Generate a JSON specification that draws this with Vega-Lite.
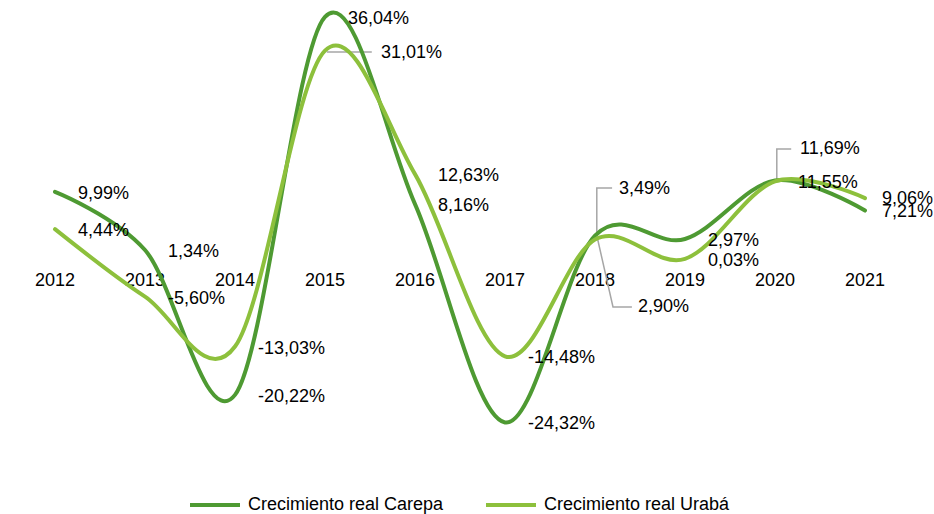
{
  "$schema": "https://vega.github.io/schema/vega-lite/v6.json",
  "width": 934,
  "height": 514,
  "autosize": {"type": "none"},
  "padding": 0,
  "background": "white",
  "config": {
    "view": {"stroke": null},
    "font": "Liberation Sans",
    "text": {"font": "Liberation Sans", "fontSize": 18, "fill": "#000000"}
  },
  "datasets": {
    "growth": [
      {"series": "Crecimiento real Carepa", "year": 2012, "value": 9.99},
      {"series": "Crecimiento real Carepa", "year": 2013, "value": 1.34},
      {"series": "Crecimiento real Carepa", "year": 2014, "value": -20.22},
      {"series": "Crecimiento real Carepa", "year": 2015, "value": 36.04},
      {"series": "Crecimiento real Carepa", "year": 2016, "value": 8.16},
      {"series": "Crecimiento real Carepa", "year": 2017, "value": -24.32},
      {"series": "Crecimiento real Carepa", "year": 2018, "value": 3.49},
      {"series": "Crecimiento real Carepa", "year": 2019, "value": 2.97},
      {"series": "Crecimiento real Carepa", "year": 2020, "value": 11.69},
      {"series": "Crecimiento real Carepa", "year": 2021, "value": 7.21},
      {"series": "Crecimiento real Urabá", "year": 2012, "value": 4.44},
      {"series": "Crecimiento real Urabá", "year": 2013, "value": -5.60},
      {"series": "Crecimiento real Urabá", "year": 2014, "value": -13.03},
      {"series": "Crecimiento real Urabá", "year": 2015, "value": 31.01},
      {"series": "Crecimiento real Urabá", "year": 2016, "value": 12.63},
      {"series": "Crecimiento real Urabá", "year": 2017, "value": -14.48},
      {"series": "Crecimiento real Urabá", "year": 2018, "value": 2.90},
      {"series": "Crecimiento real Urabá", "year": 2019, "value": 0.03},
      {"series": "Crecimiento real Urabá", "year": 2020, "value": 11.55},
      {"series": "Crecimiento real Urabá", "year": 2021, "value": 9.06}
    ],
    "leaders": [
      {"id": "a", "step": 1, "year": 2015.02, "value": 30.8},
      {"id": "a", "step": 2, "year": 2015.52, "value": 30.8},
      {"id": "b", "step": 1, "year": 2018.02, "value": 3.6},
      {"id": "b", "step": 2, "year": 2018.02, "value": 10.57},
      {"id": "b", "step": 3, "year": 2018.19, "value": 10.57},
      {"id": "c", "step": 1, "year": 2018.03, "value": 2.9},
      {"id": "c", "step": 2, "year": 2018.2, "value": -7.14},
      {"id": "c", "step": 3, "year": 2018.41, "value": -7.14},
      {"id": "d", "step": 1, "year": 2020.02, "value": 11.69},
      {"id": "d", "step": 2, "year": 2020.02, "value": 16.37},
      {"id": "d", "step": 3, "year": 2020.18, "value": 16.37}
    ]
  },
  "data": {"name": "growth"},
  "transform": [
    {"calculate": "(datum.value < 0 ? '-' : '') + replace(format(abs(datum.value), '.2f'), '.', ',') + '%'", "as": "label"}
  ],
  "encoding": {
    "x": {"field": "year", "type": "quantitative", "scale": {"domain": [2011.3889, 2021.7667], "nice": false, "zero": false}, "axis": null},
    "y": {"field": "value", "type": "quantitative", "scale": {"domain": [-37.95, 38.54], "nice": false, "zero": false}, "axis": null}
  },
  "layer": [
    {
      "data": {"values": [{}]},
      "mark": {"type": "rule", "color": "#bfbfbf", "strokeWidth": 2},
      "encoding": {"x": {"datum": 2011.5}, "x2": {"datum": 2021.5}, "y": {"datum": 0}}
    },
    {
      "transform": [{"filter": "datum.series === 'Crecimiento real Carepa'"}],
      "mark": {"type": "text", "align": "center", "baseline": "middle", "dy": 22},
      "encoding": {"y": {"datum": 0}, "text": {"field": "year", "type": "quantitative", "format": "d"}}
    },
    {
      "data": {"name": "leaders"},
      "mark": {"type": "line", "color": "#a6a6a6", "strokeWidth": 1.5},
      "encoding": {"detail": {"field": "id"}, "order": {"field": "step", "type": "quantitative"}}
    },
    {
      "mark": {"type": "line", "interpolate": "cardinal", "strokeWidth": 4, "strokeCap": "round"},
      "encoding": {
        "color": {
          "field": "series", "type": "nominal",
          "scale": {"domain": ["Crecimiento real Carepa", "Crecimiento real Urabá"], "range": ["#4E9A32", "#8DC03C"]},
          "legend": {
            "title": null, "orient": "none", "legendX": 188, "legendY": 478,
            "direction": "horizontal", "symbolType": "stroke", "symbolSize": 2500,
            "symbolStrokeWidth": 4, "labelFontSize": 18, "labelFont": "Liberation Sans",
            "labelColor": "#000000", "labelLimit": 400, "labelOffset": 6, "columnPadding": 34
          }
        }
      }
    },
    {
      "transform": [{"filter": "!((datum.year === 2015 && datum.series === 'Crecimiento real Urabá') || datum.year === 2018 || (datum.year === 2020 && datum.series === 'Crecimiento real Carepa') || datum.year === 2021)"}],
      "mark": {"type": "text", "align": "left", "baseline": "middle", "dx": 23, "dy": 2},
      "encoding": {"text": {"field": "label"}}
    },
    {
      "transform": [{"filter": "datum.year === 2021"}],
      "mark": {"type": "text", "align": "left", "baseline": "middle", "dx": 17, "dy": 1},
      "encoding": {"text": {"field": "label"}}
    },
    {
      "transform": [{"filter": "datum.year === 2015 && datum.series === 'Crecimiento real Urabá'"}],
      "mark": {"type": "text", "align": "left", "baseline": "middle", "dx": 56, "dy": 2},
      "encoding": {"text": {"field": "label"}}
    },
    {
      "transform": [{"filter": "datum.year === 2018 && datum.series === 'Crecimiento real Carepa'"}],
      "mark": {"type": "text", "align": "left", "baseline": "middle", "dx": 24, "dy": -47},
      "encoding": {"text": {"field": "label"}}
    },
    {
      "transform": [{"filter": "datum.year === 2018 && datum.series === 'Crecimiento real Urabá'"}],
      "mark": {"type": "text", "align": "left", "baseline": "middle", "dx": 43, "dy": 68},
      "encoding": {"text": {"field": "label"}}
    },
    {
      "transform": [{"filter": "datum.year === 2020 && datum.series === 'Crecimiento real Carepa'"}],
      "mark": {"type": "text", "align": "left", "baseline": "middle", "dx": 25, "dy": -31},
      "encoding": {"text": {"field": "label"}}
    }
  ]
}
